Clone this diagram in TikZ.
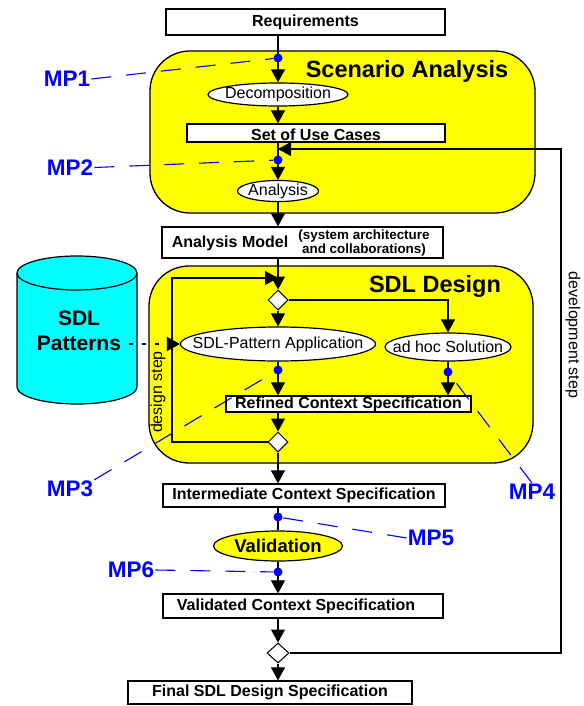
\documentclass[tikz,border=0pt]{standalone}
\usepackage{fontspec}
\setmainfont{Liberation Sans}
\usetikzlibrary{shapes.geometric,arrows.meta}
\definecolor{mpblue}{RGB}{0,0,255}
\definecolor{phaseyellow}{RGB}{255,255,0}
\definecolor{dbcyan}{RGB}{0,255,255}
\newcommand{\fsz}[1]{\fontsize{#1}{#1}\selectfont}

\begin{document}
\begin{tikzpicture}[x=1pt,y=-1pt,
  box/.style={draw, fill=white, line width=1.2pt, inner sep=0pt, font=\bfseries\fsz{16}},
  oval/.style={draw, fill=white, ellipse, line width=1.2pt, inner sep=0pt, font=\fsz{16}},
  choice/.style={draw, fill=white, diamond, line width=1pt, inner sep=0pt, minimum width=20pt, minimum height=20pt},
  phase/.style={draw, fill=phaseyellow, rounded corners=40pt, line width=1.3pt},
  title/.style={font=\bfseries\fsz{23.5}},
  mp/.style={text=mpblue, font=\bfseries\fsz{22.5}, inner sep=1pt},
  mpdot/.style={circle, fill=mpblue, inner sep=0pt, minimum size=9pt},
  mpline/.style={draw=mpblue, line width=1.1pt, dash pattern=on 20pt off 15pt},
  flow/.style={line width=1.1pt, -{Triangle[length=13pt,width=14pt]}}]
\useasboundingbox (0,0) rectangle (583,706);

% phases
\node[phase, minimum width=385pt, minimum height=162pt] (scen) at (342.5,132) {};
\node[phase, minimum width=384pt, minimum height=197pt] (sdl) at (341,364.5) {};
\node[title] (scentitle) at (407,71) {Scenario Analysis};
\node[title] (sdltitle) at (435,286.5) {SDL Design};

% pattern database
\fill[dbcyan] (17,273) rectangle (137,387);
\fill[dbcyan] (77,387) ellipse (60 and 17);
\draw[line width=1.2pt] (17,273) -- (17,387) arc (180:0:60 and 17) -- (137,273);
\draw[line width=1.2pt, fill=dbcyan] (77,273) ellipse (60 and 17);
\node[font=\bfseries\fontsize{21}{25}\selectfont, align=center] (pat) at (79,331) {SDL\\Patterns};
\coordinate (patout) at (129,344);

% main flow
\node[box, minimum width=279pt, minimum height=26pt] (req) at (305.5,22) {Requirements};
\node[oval, minimum width=140pt, minimum height=23pt] (dec) at (278,94.5) {\makebox[0pt]{Decomposition}};
\node[box, minimum width=258pt, minimum height=18pt, text height=15pt, text depth=0pt] (uc) at (316,133) {Set of Use Cases};
\node[oval, minimum width=81pt, minimum height=20pt] (ana) at (278,191) {\makebox[0pt]{Analysis}};
\node[box, minimum width=281pt, minimum height=31pt] (am) at (302.5,242.5) {};
\node[font=\bfseries\fsz{16}] (amlabel) at (230,243) {Analysis Model};
\node[font=\bfseries\fontsize{13.4}{12}\selectfont, align=center] (amnote) at (364,243) {(system architecture\\and collaborations)};
\node[choice] (d1) at (278,300) {};
\node[oval, minimum width=195pt, minimum height=34pt] (sp) at (278,344) {\makebox[0pt]{SDL-Pattern Application}};
\node[oval, minimum width=126pt, minimum height=28pt] (adhoc) at (448,347) {\makebox[0pt]{ad hoc Solution}};
\node[box, minimum width=245pt, minimum height=16pt] (ref) at (348.5,404) {Refined Context Specification};
\node[choice] (d2) at (278,442) {};
\node[box, minimum width=282pt, minimum height=23pt] (inter) at (304,495.5) {Intermediate Context Specification};
\node[oval, fill=phaseyellow, font=\bfseries\fsz{18.5}, minimum width=129pt, minimum height=30pt] (val) at (278,546) {\makebox[0pt]{Validation}};
\node[box, minimum width=280pt, minimum height=24pt] (vcs) at (303,606) {\hspace*{-14pt}Validated Context Specification};
\node[choice, minimum width=22pt] (d3) at (278,653) {};
\node[box, minimum width=284pt, minimum height=23pt] (fin) at (270,692.5) {Final SDL Design Specification};

\path[draw,flow] (req.south -| dec) -- (dec);
\path[draw,flow] (dec) -- (uc.north -| dec);
\path[draw,flow] (uc.south -| ana) -- (ana);
\path[draw,flow] (ana) -- (am.north -| ana);
\path[draw,flow] (am.south -| d1) -- (d1);
\path[draw,flow] (d1) -- (sp);
\path[draw,flow] (d1.east) -| (adhoc);
\path[draw,flow] (sp) -- (ref.north -| sp);
\path[draw,flow] (adhoc) -- (ref.north -| adhoc);
\path[draw,flow] (ref.south -| d2) -- (d2);
\path[draw,flow] (d2) -- (inter.north -| d2);
\path[draw,line width=1.1pt] (inter.south -| val) -- (val);
\path[draw,flow] (val) -- (vcs.north -| val);
\path[draw,flow] (vcs.south -| d3) -- (d3);
\path[draw,flow] (d3) -- (fin.north -| d3);

% design step loop
\coordinate (looptop) at (172,278);
\path[draw,flow] (d2.west) -| (looptop) -- (looptop -| d1);
\node[rotate=90, font=\fsz{16}] (dstep) at (158,392) {design step};
\path[draw,flow,dash pattern=on 4pt off 9pt] (patout) -- (sp.west);

% development step loop
\coordinate (fbtop) at (561,149);
\path[draw,flow] (d3.east) -| (fbtop) -- (fbtop -| ana);
\node[rotate=-90, font=\fsz{16}] (devstep) at (573,335) {development step};

% measurement points
\node[mpdot] (m1) at (278,58) {};
\node[mpdot] (m2) at (278,160) {};
\node[mpdot] (m3) at (278,370) {};
\node[mpdot] (m4) at (448,372) {};
\node[mpdot] (m5) at (278,517) {};
\node[mpdot] (m6) at (278,572) {};
\node[mp] (mp1) at (67,79) {MP1};
\node[mp] (mp2) at (70,167.5) {MP2};
\node[mp] (mp3) at (70,489) {MP3};
\node[mp] (mp4) at (532,492) {MP4};
\node[mp] (mp5) at (431,538) {MP5};
\node[mp] (mp6) at (131,570) {MP6};
\path[mpline] (mp1.east) -- (m1);
\path[mpline] (mp2.east) -- (m2);
\path[mpline] (mp3.north east) -- (m3);
\path[mpline] (mp4.north) -- (m4);
\path[mpline] (mp5.west) -- (m5);
\path[mpline] (mp6.east) -- (m6);
\end{tikzpicture}
\end{document}
